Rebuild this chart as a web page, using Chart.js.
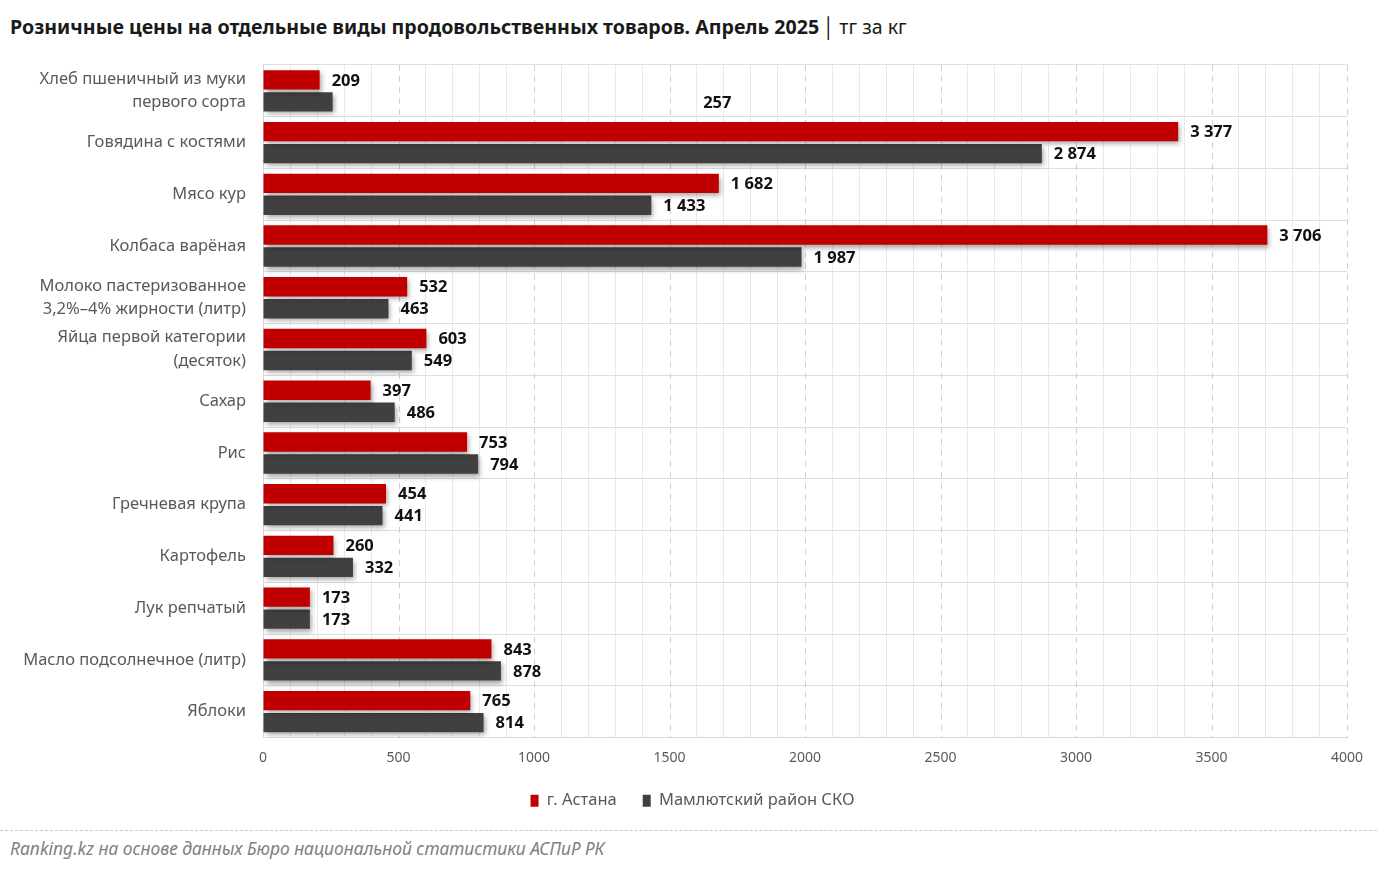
<!DOCTYPE html>
<html>
<head>
<meta charset="utf-8">
<script src="https://cdn.jsdelivr.net/npm/chart.js@4"></script>
<style>
  html, body { margin:0; padding:0; background:#fff; }
  body { width:1377px; height:872px; position:relative; overflow:hidden; font-family:"Noto Sans", sans-serif; }
  #title { position:absolute; left:10px; top:13px; font-size:19.6px; color:#1a1a1a; white-space:nowrap; }
  #title b { font-weight:700; }
  #title .sep { font-weight:400; margin:0 4px; }
  #title .unit { font-weight:400; }
  #wrap { position:absolute; left:0; top:36px; width:1377px; height:783px; }
  #footline { position:absolute; left:0; top:830px; width:1377px; border-top:1.5px dashed #c8c8c8; }
  #foot { position:absolute; left:10px; top:836px; font-size:17.4px; font-style:italic; color:#808080; white-space:nowrap; }
</style>
</head>
<body>
<div id="title"><b>Розничные цены на отдельные виды продовольственных товаров. Апрель 2025</b><span class="sep">│</span><span class="unit">тг за кг</span></div>
<div id="wrap"><canvas id="c"></canvas></div>
<div id="footline"></div>
<div id="foot">Ranking.kz на основе данных Бюро национальной статистики АСПиР РК</div>
<script>
const categories = [
  ["Хлеб пшеничный из муки", "первого сорта"],
  "Говядина с костями",
  "Мясо кур",
  "Колбаса варёная",
  ["Молоко пастеризованное", "3,2%–4% жирности (литр)"],
  ["Яйца первой категории", "(десяток)"],
  "Сахар",
  "Рис",
  "Гречневая крупа",
  "Картофель",
  "Лук репчатый",
  "Масло подсолнечное (литр)",
  "Яблоки"
];
const seriesNames = ["г. Астана", "Мамлютский район СКО"];
const astana = [209, 3377, 1682, 3706, 532, 603, 397, 753, 454, 260, 173, 843, 765];
const mamlyut = [257, 2874, 1433, 1987, 463, 549, 486, 794, 441, 332, 173, 878, 814];
const xTicks = [0, 500, 1000, 1500, 2000, 2500, 3000, 3500, 4000];

// in the reference the label of the first Мамлютский bar sits away from its bar
const displacedLabel = { dataset: 1, index: 0, atValue: 1580 };

const fmt = v => String(v).replace(/\B(?=(\d{3})+(?!\d))/g, ' ');

const shadowPlugin = {
  id: 'barShadow',
  beforeDatasetsDraw(chart) {
    const ctx = chart.ctx;
    ctx.save();
    ctx.shadowColor = 'rgba(0,0,0,0.35)';
    ctx.shadowBlur = 5;
    ctx.shadowOffsetX = 2;
    ctx.shadowOffsetY = 3;
  },
  afterDatasetsDraw(chart) {
    chart.ctx.restore();
  }
};

const majorGridPlugin = {
  id: 'majorGrid',
  beforeDatasetsDraw(chart) {
    const ctx = chart.ctx, x = chart.scales.x, a = chart.chartArea;
    ctx.save();
    ctx.strokeStyle = '#d0d0d0';
    ctx.lineWidth = 1;
    ctx.setLineDash([6, 5]);
    xTicks.forEach(v => {
      if (v === 0) return;
      const px = Math.round(x.getPixelForValue(v)) + 0.5;
      ctx.beginPath();
      ctx.moveTo(px, a.top);
      ctx.lineTo(px, a.bottom);
      ctx.stroke();
    });
    ctx.restore();
  }
};

// the legend in the reference is centred on the plot rather than on the canvas
const legendShiftPlugin = {
  id: 'legendShift',
  afterLayout(chart) {
    const lg = chart.legend;
    if (lg) { lg.left += 19; lg.right += 19; }
  }
};

const labelPlugin = {
  id: 'valueLabels',
  afterDatasetsDraw(chart) {
    const ctx = chart.ctx;
    ctx.save();
    ctx.font = 'bold 16.5px "Noto Sans"';
    ctx.fillStyle = '#111';
    ctx.textAlign = 'left';
    ctx.textBaseline = 'middle';
    chart.data.datasets.forEach((ds, di) => {
      const meta = chart.getDatasetMeta(di);
      meta.data.forEach((el, i) => {
        let x = el.x;
        if (di === displacedLabel.dataset && i === displacedLabel.index) {
          x = chart.scales.x.getPixelForValue(displacedLabel.atValue);
        }
        ctx.fillText(fmt(ds.data[i]), x + 12, el.y + 1);
      });
    });
    ctx.restore();
  }
};

new Chart(document.getElementById('c'), {
  type: 'bar',
  data: {
    labels: categories,
    datasets: [
      { label: seriesNames[0], data: astana, backgroundColor: '#C00000', borderWidth: 0 },
      { label: seriesNames[1], data: mamlyut, backgroundColor: '#404040', borderWidth: 0 }
    ]
  },
  options: {
    indexAxis: 'y',
    responsive: true,
    maintainAspectRatio: false,
    animation: false,
    categoryPercentage: 0.85,
    barPercentage: 0.88,
    layout: { padding: { top: 28, right: 30, left: 0, bottom: 0 } },
    scales: {
      x: {
        min: 0, max: 4000,
        afterFit(scale) { scale.height = 29; },
        ticks: {
          stepSize: 100,
          autoSkip: false,
          maxRotation: 0,
          padding: 12,
          color: '#595959',
          font: { family: '"Noto Sans"', size: 14 },
          callback: v => (v % 500 === 0 ? String(v) : '')
        },
        grid: {
          drawTicks: false,
          color: ctx => (ctx.tick && ctx.tick.value % 500 === 0 && ctx.tick.value !== 0 ? 'rgba(0,0,0,0)' : '#e9e9e9'),
          lineWidth: 1
        },
        border: { display: true, color: '#d9d9d9' }
      },
      y: {
        afterFit(scale) { scale.width = 263; },
        ticks: {
          autoSkip: false,
          padding: 17,
          color: '#595959',
          font: { family: '"Noto Sans"', size: 16.5, lineHeight: 1.45 }
        },
        grid: { drawTicks: false, color: '#dedede', offset: true },
        border: { display: true, color: '#d9d9d9' }
      }
    },
    plugins: {
      legend: {
        position: 'bottom',
        labels: {
          boxWidth: 8,
          boxHeight: 12,
          padding: 26,
          color: '#595959',
          font: { family: '"Noto Sans"', size: 16.5 }
        }
      },
      tooltip: { enabled: false }
    }
  },
  plugins: [majorGridPlugin, shadowPlugin, labelPlugin, legendShiftPlugin]
});
</script>
</body>
</html>
